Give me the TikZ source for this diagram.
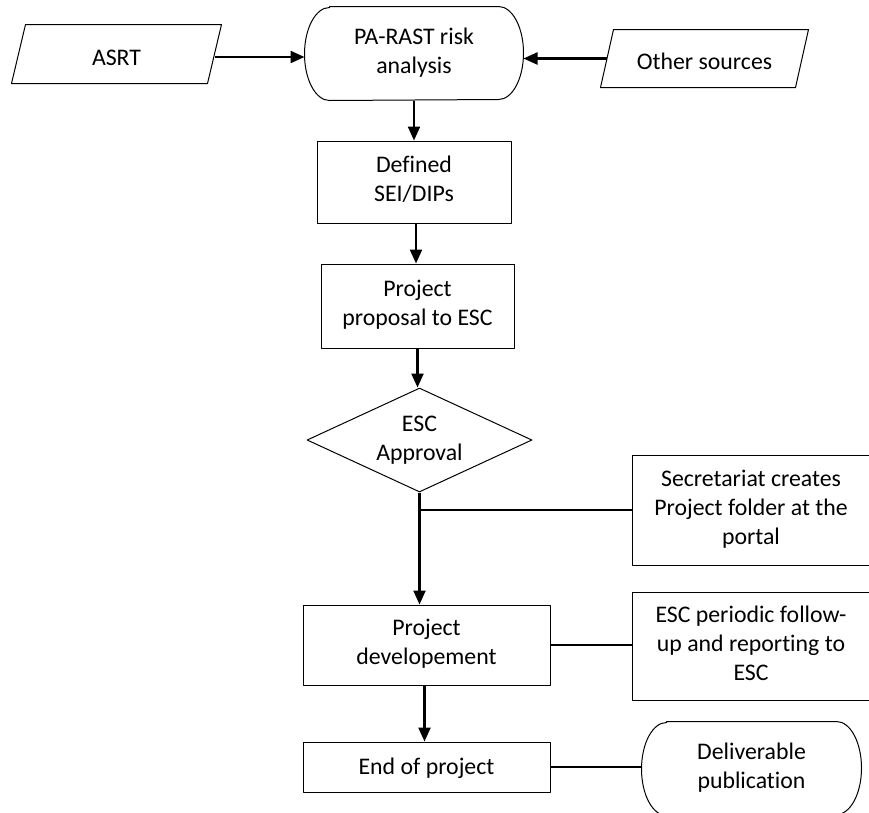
\documentclass[tikz,border=0pt]{standalone}
\usepackage{fontspec}
\setmainfont{Carlito}[Ligatures=NoCommon]
\usetikzlibrary{arrows.meta,shapes.geometric}

\tikzstyle{obj1}=[black, line width = 1pt, line join=round]
\tikzstyle{box}=[obj1, draw, rectangle, align=center, inner sep=0pt, font=\fontsize{23.8}{29}\selectfont]
\tikzstyle{plain}=[box, draw=none]
% struts that put the lines a little below the middle, as the original does
\tikzstyle{txt}=[execute at begin node={\rule{0pt}{20pt}}, execute at end node={\rule[-6pt]{0pt}{6pt}}]
\tikzstyle{toptxt}=[execute at begin node={\rule{0pt}{28pt}}, execute at end node={\rule[-6pt]{0pt}{6pt}}]
\tikzstyle{flow}=[black, line width = 2.3pt, -{Triangle[length=14pt, width=12pt]}]
\tikzstyle{link}=[black, line width = 1.8pt]

\begin{document}
\begin{tikzpicture}[
	x=1pt, y=-1pt
	]
	
	\def\tr{25pt}   % horizontal radius of the terminal ends
	\def\th{46.5pt} % vertical radius of the terminal ends
	
	\useasboundingbox (0,0) rectangle (869,812);
	
	% Inputs and risk analysis
	\node[plain, toptxt, minimum width=195, minimum height=58] (asrt) at (116.5,54) {ASRT};
	\node[plain, toptxt, minimum width=218, minimum height=93] (parast) at (414,53.5) {PA-RAST risk\\analysis};
	\node[plain, toptxt, minimum width=194, minimum height=57] (other) at (704.5,58.5) {Other sources};
	
	% Main column
	\node[box, txt, minimum width=194, minimum height=82] (defined) at (414,182) {Defined\\SEI/DIPs};
	\node[box, txt, minimum width=193, minimum height=84] (proposal) at (417.5,306) {Project\\proposal to ESC};
	\node[box, diamond, aspect=2.16, minimum width=225, minimum height=104] (approval) at (419.5,440) {ESC\\Approval};
	\node[box, txt, minimum width=247, minimum height=80] (devel) at (426.5,645) {Project\\developement};
	\node[box, txt, minimum width=247, minimum height=50] (end) at (426.5,767) {End of project};
	
	% Side boxes, cut by the right and bottom edges
	\node[box, txt, minimum width=238, minimum height=110] (secretariat) at (751,510) {Secretariat creates\\Project folder at the\\portal};
	\node[box, txt, minimum width=238, minimum height=108] (followup) at (751,646) {ESC periodic follow-\\up and reporting to\\ESC};
	\node[plain, txt, minimum width=219, minimum height=93] (deliver) at (751.5,768.5) {Deliverable\\publication};
	
	% Outlines of the data shapes (slanted) and of the terminals
	\foreach \n/\s in {asrt/7, other/6.5} {
		\draw[obj1] ([xshift=\s pt]\n.north west) -- ([xshift=\s pt]\n.north east) -- ([xshift=-\s pt]\n.south east) -- ([xshift=-\s pt]\n.south west) -- cycle;
	}
	\foreach \n in {parast, deliver} {
		\draw[obj1] ([xshift=\tr]\n.north west) -- ([xshift=-\tr]\n.north east) arc[start angle=90, end angle=-90, x radius=\tr, y radius=\th] -- ([xshift=\tr]\n.south west) arc[start angle=270, end angle=90, x radius=\tr, y radius=\th] -- cycle;
	}
	
	% Connectors
	\draw[flow] ([yshift=-3pt]asrt.east) -- ([yshift=-3pt]asrt.east -| parast.west);
	\draw[flow] (other.west) -- (other.west -| parast.east);
	\draw[flow] (parast) -- (defined);
	\draw[flow] ([xshift=2pt]defined.south) -- ([xshift=2pt]defined.south |- proposal.north);
	\draw[flow] (proposal.south) -- (proposal.south |- approval.north);
	\draw[flow] (approval.south) -- (approval.south |- devel.north);
	\draw[link] (secretariat.west) -- (secretariat.west -| approval.south);
	\draw[link] (devel.east) -- (devel.east -| followup.west);
	\draw[flow] ([xshift=-2pt]devel.south) -- ([xshift=-2pt]end.north);
	\draw[link] (end.east) -- (end.east -| deliver.west);
	
\end{tikzpicture}
\end{document}
